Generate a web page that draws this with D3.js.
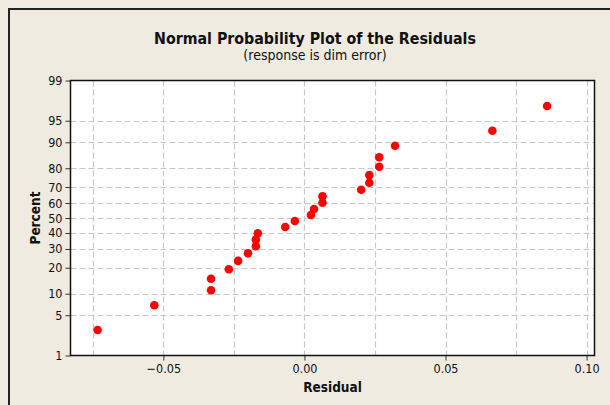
<!DOCTYPE html>
<html>
<head>
<meta charset="utf-8">
<script src="https://cdn.jsdelivr.net/npm/d3@7"></script>
<style>
  html, body { margin: 0; padding: 0; background: #efebe1; }
  svg { display: block; }
</style>
</head>
<body>
<svg id="chart" width="610" height="405"></svg>
<script>
// Residuals, in ascending order
const residuals = [
  -0.0733, -0.0532, -0.0331, -0.0331, -0.0268, -0.0235, -0.0200, -0.0172,
  -0.0172, -0.0165, -0.0068, -0.0034, 0.0023, 0.0034, 0.0064, 0.0064,
  0.0201, 0.0230, 0.0230, 0.0265, 0.0265, 0.0321, 0.0666, 0.0860
];
// Cumulative percent for each residual
const percents = [
  2.9, 7.0, 11.1, 15.2, 19.3, 23.4, 27.5, 31.6, 35.7, 39.8, 43.9, 48.0,
  52.0, 56.1, 60.2, 64.3, 68.4, 72.5, 76.6, 80.7, 84.8, 88.9, 93.0, 97.1
];
const xTickValues = [-0.05, 0.00, 0.05, 0.10];
const xGridValues = [-0.075, -0.05, -0.025, 0.00, 0.025, 0.05, 0.075, 0.10];
const yTickValues = [1, 5, 10, 20, 30, 40, 50, 60, 70, 80, 90, 95, 99];
const yGridValues = [5, 10, 20, 30, 40, 50, 60, 70, 80, 90, 95];

// Inverse standard normal CDF (Acklam's rational approximation)
function probit(p) {
  const a = [-3.969683028665376e+01, 2.209460984245205e+02, -2.759285104469687e+02,
             1.383577518672690e+02, -3.066479806614716e+01, 2.506628277459239e+00];
  const b = [-5.447609879822406e+01, 1.615858368580409e+02, -1.556989798598866e+02,
             6.680131188771972e+01, -1.328068155288572e+01];
  const c = [-7.784894002430293e-03, -3.223964580411365e-01, -2.400758277161838e+00,
             -2.549671010114436e+00, 4.374664141464968e+00, 2.938163982698783e+00];
  const d = [7.784695709041462e-03, 3.224671290700398e-01, 2.445134137142996e+00,
             3.754408661907416e+00];
  const pl = 0.02425, ph = 1 - pl;
  let q, r;
  if (p < pl) {
    q = Math.sqrt(-2 * Math.log(p));
    return (((((c[0]*q+c[1])*q+c[2])*q+c[3])*q+c[4])*q+c[5]) /
           ((((d[0]*q+d[1])*q+d[2])*q+d[3])*q+1);
  }
  if (p <= ph) {
    q = p - 0.5; r = q * q;
    return (((((a[0]*r+a[1])*r+a[2])*r+a[3])*r+a[4])*r+a[5])*q /
           (((((b[0]*r+b[1])*r+b[2])*r+b[3])*r+b[4])*r+1);
  }
  q = Math.sqrt(-2 * Math.log(1 - p));
  return -(((((c[0]*q+c[1])*q+c[2])*q+c[3])*q+c[4])*q+c[5]) /
          ((((d[0]*q+d[1])*q+d[2])*q+d[3])*q+1);
}

const svg = d3.select("#chart");
const font = "'DejaVu Sans Condensed', 'DejaVu Sans', sans-serif";

const plot = { left: 70.5, right: 594.5, top: 80.5, bottom: 355.5 };

const x = d3.scaleLinear().domain([-0.0829, 0.1028]).range([plot.left, plot.right]);
// normal probability scale: linear in z = probit(p)
const z = d3.scaleLinear().domain([probit(0.01), probit(0.99)]).range([plot.bottom, plot.top]);
const y = pct => z(probit(pct / 100));

// outer frame (top and left edges)
svg.append("path")
  .attr("d", "M9,405 V9 H610")
  .attr("fill", "none").attr("stroke", "#222").attr("stroke-width", 2);

// titles
svg.append("text")
  .attr("x", 315).attr("y", 44).attr("text-anchor", "middle")
  .attr("font-family", font).attr("font-weight", "bold").attr("font-size", 15.8)
  .attr("fill", "#111")
  .text("Normal Probability Plot of the Residuals");
svg.append("text")
  .attr("x", 315).attr("y", 60).attr("text-anchor", "middle")
  .attr("font-family", font).attr("font-size", 14).attr("fill", "#111")
  .text("(response is dim error)");

// plot background
svg.append("rect")
  .attr("x", plot.left).attr("y", plot.top)
  .attr("width", plot.right - plot.left).attr("height", plot.bottom - plot.top)
  .attr("fill", "#fff");

// dashed gridlines
const grid = svg.append("g").attr("stroke", "#c8c8c8").attr("stroke-width", 1.2)
  .attr("stroke-dasharray", "6,3");
grid.selectAll("line.v").data(xGridValues).join("line")
  .attr("class", "v")
  .attr("x1", d => Math.round(x(d)) + 0.5).attr("x2", d => Math.round(x(d)) + 0.5)
  .attr("y1", plot.top).attr("y2", plot.bottom);
grid.selectAll("line.h").data(yGridValues).join("line")
  .attr("class", "h")
  .attr("x1", plot.left).attr("x2", plot.right)
  .attr("y1", d => Math.round(y(d)) + 0.5).attr("y2", d => Math.round(y(d)) + 0.5);

// axes
const xAxis = d3.axisBottom(x).tickValues(xTickValues).tickSize(5).tickPadding(4)
  .tickFormat(d3.format(".2f"));
const gx = svg.append("g").attr("transform", `translate(0,${plot.bottom})`).call(xAxis);
gx.select(".domain").remove();
gx.selectAll(".tick text").attr("font-family", font).attr("font-size", 12.5).attr("fill", "#111");
gx.selectAll(".tick line").attr("stroke", "#333");

const yAxis = d3.axisLeft(z).tickValues(yTickValues.map(v => probit(v / 100)))
  .tickSize(5).tickPadding(3)
  .tickFormat((d, i) => yTickValues[i]);
const gy = svg.append("g").attr("transform", `translate(${plot.left},0)`).call(yAxis);
gy.select(".domain").remove();
gy.selectAll(".tick text").attr("font-family", font).attr("font-size", 12.5).attr("fill", "#111");
gy.selectAll(".tick line").attr("stroke", "#333");

// plot frame
svg.append("rect")
  .attr("x", plot.left).attr("y", plot.top)
  .attr("width", plot.right - plot.left).attr("height", plot.bottom - plot.top)
  .attr("fill", "none").attr("stroke", "#111").attr("stroke-width", 1.5);

// axis titles
svg.append("text")
  .attr("x", (plot.left + plot.right) / 2).attr("y", 392).attr("text-anchor", "middle")
  .attr("font-family", font).attr("font-weight", "bold").attr("font-size", 13.5)
  .attr("fill", "#111").text("Residual");
svg.append("text")
  .attr("transform", `translate(40,${y(50)}) rotate(-90)`).attr("text-anchor", "middle")
  .attr("font-family", font).attr("font-weight", "bold").attr("font-size", 13.5)
  .attr("fill", "#111").text("Percent");

// points
svg.append("g").selectAll("circle").data(residuals).join("circle")
  .attr("cx", d => x(d))
  .attr("cy", (d, i) => y(percents[i]))
  .attr("r", 4.3)
  .attr("fill", "#ff0000");
</script>
</body>
</html>
